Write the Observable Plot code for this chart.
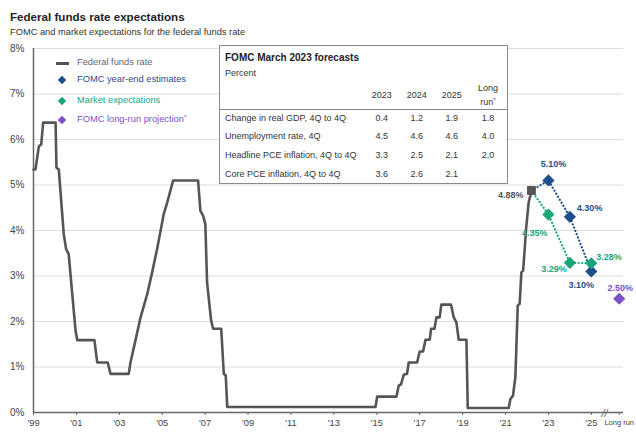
<!DOCTYPE html>
<html><head><meta charset="utf-8">
<script src="https://cdn.jsdelivr.net/npm/d3@7"></script>
<script src="https://cdn.jsdelivr.net/npm/@observablehq/plot@0.6"></script>
<style>
body{margin:0;background:#fff;font-family:"Liberation Sans",Arial,sans-serif;}
#wrap{position:relative;width:636px;height:435px;overflow:hidden;background:#fff;}
#title{position:absolute;left:10px;top:11px;font-size:11.6px;font-weight:bold;color:#222;line-height:1;white-space:nowrap;}
#sub{position:absolute;left:10px;top:27.5px;font-size:9.3px;color:#333;line-height:1;white-space:nowrap;}
#chart{position:absolute;left:0;top:40px;}
.leg{position:absolute;font-size:9.3px;white-space:nowrap;line-height:1;}
.dia{position:absolute;width:6px;height:6px;transform:rotate(45deg);}
#tbl{position:absolute;left:219px;top:45px;width:287px;height:137px;border:1px solid #8a8a8a;background:#fff;font-size:9px;color:#333;}
#tbl div{position:absolute;line-height:1;white-space:nowrap;}
sup{font-size:6px;vertical-align:top;position:relative;top:-1px;}
</style>
</head><body>
<div id="wrap">
  <div id="title"></div>
  <div id="sub"></div>
  <div id="chart"></div>
  <div id="legend"></div>
  <div id="tbl"></div>
</div>
<script>
// ---------- text ----------
const titleText = "Federal funds rate expectations";
const subtitleText = "FOMC and market expectations for the federal funds rate";

// ---------- federal funds rate (year, percent) ----------
const ffYear = [1999.00,1999.09,1999.25,1999.36,1999.45,2000.03,2000.07,2000.18,2000.41,2000.52,2000.64,2000.96,2001.04,2001.84,2001.97,2002.46,2002.59,2003.44,2003.52,2003.75,2003.99,2004.30,2004.53,2004.76,2005.07,2005.23,2005.51,2006.67,2006.78,2006.91,2007.01,2007.09,2007.28,2007.37,2007.75,2007.87,2007.96,2008.03,2014.94,2015.02,2015.92,2016.02,2016.13,2016.26,2016.41,2016.49,2016.88,2017.00,2017.16,2017.27,2017.47,2017.53,2017.69,2017.78,2017.93,2018.01,2018.46,2018.59,2018.71,2018.82,2019.18,2019.24,2021.15,2021.23,2021.35,2021.46,2021.57,2021.66,2021.74,2021.82,2021.89,2021.96,2022.08,2022.16,2022.21];
const ffRate = [5.34,5.34,5.85,5.89,6.37,6.37,5.38,5.34,3.92,3.59,3.48,1.80,1.59,1.59,1.10,1.10,0.85,0.85,1.10,1.58,2.09,2.60,3.08,3.59,4.36,4.61,5.10,5.10,4.43,4.32,4.14,2.86,2.02,1.84,1.84,0.85,0.82,0.12,0.12,0.35,0.35,0.59,0.62,0.83,0.85,1.10,1.10,1.34,1.34,1.60,1.60,1.84,1.84,2.09,2.09,2.37,2.37,2.09,1.98,1.60,1.60,0.10,0.10,0.30,0.37,0.78,2.35,2.39,3.08,3.12,3.56,4.04,4.62,4.77,4.88];

// latest actual
const lastYear = 2022.21;
const lastRate = 4.88;

// projections
const projYears = [2023, 2024, 2025];
const fomcValues = [5.10, 4.30, 3.10];
const marketValues = [4.35, 3.29, 3.28];
const longRunYear = 2026.3;
const longRunValue = 2.50;

// axis
const xTickYears = [1999,2001,2003,2005,2007,2009,2011,2013,2015,2017,2019,2021,2023,2025];
const longRunLabel = "Long run";
const breakYear = 2025.62;
const yTicks = [0,1,2,3,4,5,6,7,8];

// table
const tableTitle = "FOMC March 2023 forecasts";
const tableUnit = "Percent";
const tableCols = ["2023","2024","2025","Long run"];
const tableRows = ["Change in real GDP, 4Q to 4Q","Unemployment rate, 4Q","Headline PCE inflation, 4Q to 4Q","Core PCE inflation, 4Q to 4Q"];
const tableValues = [["0.4","1.2","1.9","1.8"],["4.5","4.6","4.6","4.0"],["3.3","2.5","2.1","2.0"],["3.6","2.6","2.1",""]];

// legend
const legendLabels = ["Federal funds rate","FOMC year-end estimates","Market expectations","FOMC long-run projection"];

// ---------- styles ----------
const C = {ff:"#555555", fomc:"#1f4e8c", market:"#1ba57a", lr:"#7b50c8", grid:"#dcdcdc", axis:"#666"};
const FONT = '"Liberation Sans", Arial, sans-serif';

document.getElementById("title").textContent = titleText;
document.getElementById("sub").textContent = subtitleText;

const ff = ffYear.map((y,i)=>({x:y, v:ffRate[i]}));
const fomcPath = [{x:lastYear,v:lastRate}, ...projYears.map((y,i)=>({x:y,v:fomcValues[i]}))];
const marketPath = [{x:lastYear,v:lastRate}, ...projYears.map((y,i)=>({x:y,v:marketValues[i]}))];
const fomcPts = projYears.map((y,i)=>({x:y,v:fomcValues[i]}));
const marketPts = projYears.map((y,i)=>({x:y,v:marketValues[i]}));
const lrPts = [{x:longRunYear, v:longRunValue}];
const lastPts = [{x:lastYear, v:lastRate}];

const pct = v => v.toFixed(2) + "%";
// label placement (style only): [point, color, anchor, dx, dy]
const labels = [
  [lastPts[0], C.ff, "end", -8, 5],
  [fomcPts[0], C.fomc, "middle", 5, -16],
  [fomcPts[1], C.fomc, "start", 7, -9],
  [fomcPts[2], C.fomc, "middle", -10, 14],
  [marketPts[0], C.market, "end", -1, 19],
  [marketPts[1], C.market, "end", -3, 6],
  [marketPts[2], C.market, "start", 5, -6],
  [lrPts[0], C.lr, "middle", 1, -11]
];

const chart = Plot.plot({
  width: 636, height: 395,
  marginTop: 8, marginBottom: 23, marginLeft: 33, marginRight: 13,
  style: {fontFamily: FONT, background: "transparent", overflow: "visible"},
  x: {domain: [1999, 2026.5], axis: null, label: null},
  y: {domain: [0, 8], axis: null, label: null},
  marks: [
    Plot.gridY(yTicks.slice(1), {stroke: C.grid, strokeOpacity: 1, strokeWidth: 1}),
    Plot.axisY(yTicks, {label: null, tickSize: 0, tickPadding: 9, tickFormat: d => d + "%", fontSize: 10, fill: "#444"}),
    Plot.axisX(xTickYears, {label: null, tickSize: 3, tickPadding: 4, tickFormat: d => "'" + String(d).slice(2), fontSize: 9.3, fill: "#444", stroke: C.axis}),
    Plot.axisX([longRunYear], {label: null, tickSize: 3, tickPadding: 4, tickFormat: () => longRunLabel, fontSize: 7.5, fill: "#444", stroke: C.axis}),
    Plot.ruleX([1999], {stroke: C.axis, strokeWidth: 1.5}),
    Plot.ruleY([0], {stroke: C.axis, strokeWidth: 1.5}),
    Plot.text(["//"], {x: () => breakYear, y: () => 0, fontSize: 11, fill: C.axis, fontStyle: "italic", dy: 1}),
    Plot.line(ff, {x: "x", y: "v", stroke: C.ff, strokeWidth: 2.6, strokeLinejoin: "round"}),
    Plot.line(fomcPath, {x: "x", y: "v", stroke: C.fomc, strokeWidth: 2.2, strokeDasharray: "0.1,3.4", strokeLinecap: "round"}),
    Plot.line(marketPath, {x: "x", y: "v", stroke: C.market, strokeWidth: 2.2, strokeDasharray: "0.1,3.4", strokeLinecap: "round"}),
    Plot.dot(lastPts, {x: "x", y: "v", symbol: "square", r: 5, fill: C.ff}),
    Plot.dot(fomcPts, {x: "x", y: "v", symbol: "diamond2", r: 5.5, fill: C.fomc, stroke: "none"}),
    Plot.dot(marketPts, {x: "x", y: "v", symbol: "diamond2", r: 5.5, fill: C.market, stroke: "none"}),
    Plot.dot(lrPts, {x: "x", y: "v", symbol: "diamond2", r: 5.5, fill: C.lr, stroke: "none"}),
    ...labels.map(([p, col, anchor, dx, dy]) =>
      Plot.text([p], {x: "x", y: "v", text: d => pct(d.v), fill: col, textAnchor: anchor, dx, dy, fontSize: 9, fontWeight: "bold"}))
  ]
});
document.getElementById("chart").appendChild(chart);

// ---------- legend (HTML) ----------
const leg = document.getElementById("legend");
const legColors = [C.ff, C.fomc, C.market, C.lr];
const legTextColors = ["#666", C.fomc, C.market, C.lr];
const legCenters = [63.3, 80, 101, 120];
legendLabels.forEach((lab, i) => {
  const cy = legCenters[i];
  if (i === 0) {
    const ln = document.createElement("div");
    ln.style.cssText = `position:absolute;left:56px;top:${cy-1.5}px;width:13px;height:3px;background:${legColors[i]}`;
    leg.appendChild(ln);
  } else {
    const d = document.createElement("div");
    d.className = "dia";
    d.style.cssText += `left:${61.7-3}px;top:${cy-3}px;background:${legColors[i]}`;
    leg.appendChild(d);
  }
  const t = document.createElement("div");
  t.className = "leg";
  t.style.left = "77px";
  t.style.top = (cy - 5) + "px";
  t.style.color = legTextColors[i];
  t.innerHTML = lab + (i === 3 ? "<sup>*</sup>" : "");
  leg.appendChild(t);
});

// ---------- table (HTML) ----------
const tbl = document.getElementById("tbl");
function cell(html, left, top, extra) {
  const d = document.createElement("div");
  d.innerHTML = html;
  d.style.left = left + "px";
  d.style.top = top + "px";
  if (extra) d.style.cssText += extra;
  tbl.appendChild(d);
  return d;
}
cell(tableTitle, 5, 7, "font-weight:bold;font-size:10px;color:#222;");
cell(tableUnit, 5, 23, "");
const colCenters = [161.7, 196.7, 231.7, 268];
tableCols.forEach((c, j) => {
  if (j === 3) {
    cell("Long", colCenters[j]-20, 38, "width:40px;text-align:center;");
    cell("run<sup>*</sup>", colCenters[j]-20, 51.5, "width:40px;text-align:center;");
  } else {
    cell(c, colCenters[j]-20, 44.5, "width:40px;text-align:center;");
  }
});
const sep = document.createElement("div");
sep.style.cssText = "left:0;top:63px;width:287px;height:1px;background:#8a8a8a;";
tbl.appendChild(sep);
const rowCenters = [72.3, 90.7, 109, 128];
tableRows.forEach((r, i) => {
  cell(r, 5, rowCenters[i]-4.5, "");
  tableValues[i].forEach((v, j) => {
    if (v) cell(v, colCenters[j]-20, rowCenters[i]-4.5, "width:40px;text-align:center;");
  });
});
</script>
</body></html>
